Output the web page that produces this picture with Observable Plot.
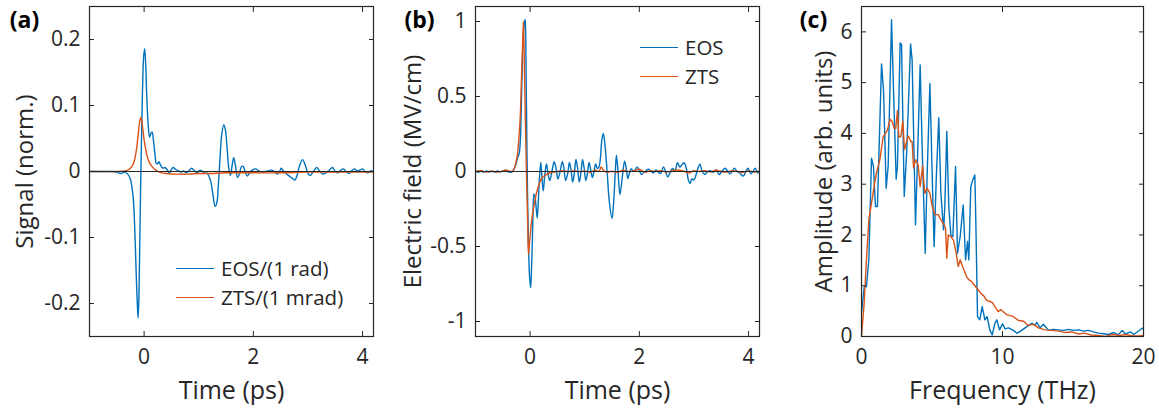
<!DOCTYPE html>
<html><head><meta charset="utf-8">
<script src="https://cdn.jsdelivr.net/npm/d3@7"></script>
<script src="https://cdn.jsdelivr.net/npm/@observablehq/plot@0.6"></script>
<style>
body{margin:0;background:#fff;}
#fig{position:relative;width:1159px;height:410px;font-family:"Open Sans",sans-serif;color:#262626;overflow:hidden;}
.panel{position:absolute;top:0;}
.leg{position:absolute;font-size:20.5px;line-height:22px;height:22px;white-space:nowrap;display:flex;align-items:center;}
.leg i{display:inline-block;width:38px;border-top:1.6px solid;margin-right:7px;}
</style></head><body><div id="fig"></div>
<script>
// ---------- Panel (a): Signal (norm.) vs Time (ps) ----------
const eosA = [[-1.0,0],[-0.8,0],[-0.6,0],[-0.5,-0.001],[-0.43,-0.003],[-0.36,-0.001],[-0.3,-0.004],[-0.25,-0.012],[-0.2,-0.04],[-0.17,-0.09],[-0.145,-0.155],[-0.125,-0.2],[-0.11,-0.222],[-0.095,-0.19],[-0.08,-0.11],[-0.065,-0.03],[-0.05,0.04],[-0.03,0.12],[-0.01,0.172],[0.01,0.186],[0.03,0.16],[0.05,0.11],[0.075,0.07],[0.1,0.052],[0.125,0.058],[0.145,0.06],[0.17,0.048],[0.2,0.025],[0.225,0.012],[0.25,0.012],[0.27,0.015],[0.3,0.01],[0.34,0.005],[0.38,0.006],[0.42,0.003],[0.46,-0.002],[0.5,0.003],[0.53,0.006],[0.58,0.003],[0.63,0.001],[0.68,-0.001],[0.72,0.001],[0.77,-0.002],[0.82,0.001],[0.87,0.005],[0.92,0.001],[0.97,-0.002],[1.02,0.002],[1.07,0],[1.11,-0.003],[1.15,-0.002],[1.18,-0.006],[1.22,-0.015],[1.26,-0.035],[1.3,-0.053],[1.33,-0.048],[1.36,-0.02],[1.39,0.02],[1.42,0.055],[1.46,0.071],[1.49,0.062],[1.52,0.035],[1.55,0.005],[1.58,-0.006],[1.61,0.008],[1.64,0.021],[1.67,0.01],[1.71,-0.009],[1.74,-0.005],[1.78,0.007],[1.81,0.008],[1.85,0],[1.89,-0.007],[1.93,-0.002],[1.98,0.002],[2.04,0.004],[2.1,0.001],[2.16,-0.001],[2.22,0],[2.28,0.001],[2.34,0.002],[2.4,-0.001],[2.44,-0.004],[2.48,0],[2.51,0.005],[2.55,0.001],[2.6,-0.003],[2.66,-0.007],[2.71,-0.01],[2.76,-0.013],[2.8,-0.006],[2.84,0.007],[2.9,0.018],[2.95,0.01],[3.0,-0.003],[3.04,-0.006],[3.1,0],[3.16,0.006],[3.21,0.001],[3.27,-0.004],[3.33,-0.002],[3.39,0.002],[3.45,0.006],[3.5,0],[3.55,-0.002],[3.6,0.002],[3.65,0.004],[3.7,0],[3.75,-0.003],[3.8,0.001],[3.85,0.004],[3.9,0.001],[3.95,0.002],[4.0,0.004],[4.05,-0.001],[4.1,-0.002],[4.15,0.001],[4.2,0]];
const ztsA = [[-1.0,0],[-0.5,0],[-0.35,0.001],[-0.28,0.003],[-0.22,0.008],[-0.18,0.016],[-0.14,0.033],[-0.11,0.055],[-0.08,0.076],[-0.06,0.082],[-0.04,0.075],[-0.02,0.062],[0,0.048],[0.03,0.033],[0.06,0.022],[0.1,0.013],[0.15,0.007],[0.2,0.003],[0.25,0],[0.32,-0.002],[0.4,-0.003],[0.6,-0.004],[0.8,-0.004],[1.0,-0.003],[1.2,-0.003],[1.5,-0.002],[2.0,-0.002],[2.5,-0.002],[3.0,-0.001],[3.5,-0.001],[4.2,-0.001]];
const ticksA_x = [0, 2, 4], labelsA_x = ["0", "2", "4"];
const ticksA_y = [-0.2, -0.1, 0, 0.1, 0.2], labelsA_y = ["-0.2", "-0.1", "0", "0.1", "0.2"];

// ---------- Panel (b): Electric field (MV/cm) vs Time (ps) ----------
const eosB = [[-1.0,0.005],[-0.95,-0.005],[-0.9,0.003],[-0.85,-0.004],[-0.8,0.004],[-0.75,-0.003],[-0.7,0.002],[-0.65,-0.004],[-0.6,0.003],[-0.55,-0.002],[-0.5,0.004],[-0.45,0.008],[-0.4,-0.003],[-0.35,-0.005],[-0.32,0],[-0.29,0.02],[-0.26,0.05],[-0.23,0.09],[-0.2,0.12],[-0.18,0.2],[-0.16,0.45],[-0.14,0.75],[-0.12,0.93],[-0.1,1.0],[-0.09,1.013],[-0.075,0.7],[-0.06,0.2],[-0.045,-0.2],[-0.03,-0.48],[-0.01,-0.7],[0.01,-0.775],[0.03,-0.6],[0.05,-0.33],[0.07,-0.15],[0.09,-0.17],[0.11,-0.24],[0.13,-0.31],[0.15,-0.2],[0.17,-0.05],[0.195,0.06],[0.215,-0.03],[0.24,-0.13],[0.27,-0.02],[0.3,0.05],[0.33,-0.02],[0.36,-0.06],[0.4,0],[0.44,0.065],[0.48,0.01],[0.51,-0.05],[0.55,0],[0.59,0.065],[0.62,0.02],[0.65,-0.06],[0.69,-0.01],[0.72,0.06],[0.75,0.01],[0.78,-0.07],[0.81,-0.01],[0.84,0.08],[0.87,0.02],[0.9,-0.07],[0.93,-0.01],[0.96,0.08],[0.99,0.02],[1.02,-0.06],[1.05,-0.01],[1.08,0.06],[1.11,0.01],[1.14,-0.04],[1.17,0],[1.2,0.05],[1.23,0.02],[1.26,0.03],[1.29,0.1],[1.31,0.2],[1.34,0.253],[1.37,0.18],[1.41,0],[1.45,-0.2],[1.5,-0.313],[1.53,-0.2],[1.56,0],[1.58,0.109],[1.61,0],[1.645,-0.153],[1.69,-0.03],[1.73,0.069],[1.76,0.02],[1.79,-0.047],[1.82,-0.01],[1.85,0.018],[1.9,0],[1.96,0.031],[2.0,0.005],[2.04,-0.02],[2.08,-0.005],[2.12,0.005],[2.17,0.016],[2.21,0.003],[2.26,-0.01],[2.3,0.01],[2.35,-0.005],[2.39,-0.013],[2.44,0.031],[2.48,0],[2.52,-0.036],[2.56,-0.01],[2.61,0.02],[2.65,0.005],[2.7,0.058],[2.74,0.03],[2.78,0.045],[2.82,0.058],[2.86,0.02],[2.9,-0.06],[2.93,-0.08],[2.96,-0.05],[3.0,-0.055],[3.04,-0.02],[3.08,0.03],[3.11,0.049],[3.15,0],[3.2,-0.02],[3.25,0],[3.3,0.005],[3.35,-0.005],[3.41,0.01],[3.46,-0.02],[3.5,-0.005],[3.57,0.022],[3.62,0],[3.66,-0.015],[3.7,0],[3.74,0.022],[3.79,0],[3.84,-0.01],[3.9,-0.031],[3.95,0],[3.99,0.022],[4.04,-0.015],[4.08,0],[4.12,0.022],[4.17,-0.01],[4.2,0.005]];
const ztsB = [[-1.0,0],[-0.9,0.005],[-0.8,-0.003],[-0.7,0.003],[-0.6,-0.004],[-0.5,0.003],[-0.45,0.01],[-0.4,0.005],[-0.33,0],[-0.29,0.02],[-0.26,0.06],[-0.23,0.12],[-0.2,0.25],[-0.18,0.37],[-0.16,0.6],[-0.14,0.82],[-0.123,1.0],[-0.105,0.7],[-0.085,0.3],[-0.065,-0.05],[-0.045,-0.33],[-0.03,-0.553],[-0.01,-0.47],[0.01,-0.39],[0.03,-0.32],[0.06,-0.25],[0.09,-0.19],[0.12,-0.14],[0.15,-0.1],[0.18,-0.07],[0.215,-0.042],[0.26,-0.03],[0.31,-0.018],[0.36,-0.01],[0.42,-0.004],[0.5,0],[0.6,0.005],[0.7,-0.002],[0.8,0.006],[0.9,-0.002],[1.0,0.004],[1.1,-0.005],[1.2,0.008],[1.26,0],[1.3,0.03],[1.34,0.01],[1.4,-0.005],[1.5,0.002],[1.6,-0.006],[1.7,0.008],[1.8,0],[1.9,0.004],[2.0,0.015],[2.1,-0.005],[2.2,0.005],[2.3,0],[2.4,0.006],[2.5,-0.004],[2.6,0.005],[2.7,0.01],[2.8,0.003],[2.9,-0.01],[3.0,0.005],[3.1,0],[3.2,0.006],[3.3,-0.004],[3.4,0.008],[3.5,0],[3.6,-0.004],[3.7,0.006],[3.8,0],[3.9,-0.006],[4.0,0.004],[4.1,-0.003],[4.2,0.002]];
const ticksB_x = [0, 2, 4], labelsB_x = ["0", "2", "4"];
const ticksB_y = [-1, -0.5, 0, 0.5, 1], labelsB_y = ["-1", "-0.5", "0", "0.5", "1"];

// ---------- Panel (c): Amplitude (arb. units) vs Frequency (THz) ----------
const eosC = [[0,0.46],[0.19,0.98],[0.35,0.98],[0.52,1.51],[0.71,3.51],[0.85,3.35],[0.99,2.56],[1.13,2.56],[1.42,5.37],[1.56,4.86],[1.75,2.92],[1.89,3.35],[2.13,6.24],[2.27,4.86],[2.46,3.10],[2.55,3.35],[2.74,5.78],[2.84,5.75],[3.03,2.76],[3.2,3.6],[3.48,5.76],[3.59,5.45],[3.83,2.20],[3.97,3.48],[4.16,5.35],[4.30,3.74],[4.52,1.64],[4.66,3.22],[4.85,4.98],[5.01,3.22],[5.15,1.77],[5.30,3.09],[5.48,4.31],[5.63,2.82],[5.82,2.10],[5.91,2.56],[6.05,4.04],[6.19,2.56],[6.34,2.0],[6.48,1.97],[6.67,3.35],[6.81,1.64],[7.0,1.97],[7.21,2.59],[7.38,1.51],[7.52,1.87],[7.61,1.51],[7.75,2.95],[7.9,3.09],[8.04,3.18],[8.11,2.23],[8.23,0.39],[8.39,0.33],[8.56,0.59],[8.75,0.33],[8.91,0.39],[9.1,0.13],[9.27,0.03],[9.46,0.26],[9.6,0.33],[9.79,0.13],[10.0,0.25],[10.19,0.15],[10.43,0.17],[10.78,0.12],[11.02,0.065],[11.26,0.1],[11.6,0.17],[12.08,0.26],[12.3,0.22],[12.43,0.28],[12.67,0.17],[12.9,0.24],[13.26,0.12],[13.6,0.14],[13.97,0.13],[14.3,0.12],[14.7,0.14],[15.0,0.12],[15.4,0.13],[15.75,0.105],[16.1,0.12],[16.46,0.09],[16.8,0.066],[17.17,0.053],[17.5,0.04],[17.9,0.079],[18.2,0.033],[18.5,0.118],[18.7,0.053],[19.1,0.09],[19.3,0.04],[19.7,0.118],[19.9,0.164],[20,0.15]];
const ztsC = [[0,0],[0.19,0.66],[0.35,1.51],[0.52,2.30],[0.71,2.63],[0.95,3.05],[1.06,3.22],[1.3,3.48],[1.54,3.94],[1.7,4.0],[1.84,4.07],[2.03,4.28],[2.17,4.24],[2.32,4.10],[2.43,4.10],[2.55,4.45],[2.65,3.93],[2.79,3.94],[2.93,4.24],[3.05,3.68],[3.17,3.81],[3.31,3.95],[3.5,3.84],[3.59,3.84],[3.69,3.32],[3.83,3.48],[4.02,3.38],[4.16,2.95],[4.33,3.36],[4.49,2.82],[4.66,2.92],[4.85,2.82],[5.01,2.57],[5.2,2.40],[5.44,2.40],[5.63,2.30],[5.86,2.20],[5.96,2.13],[6.05,1.54],[6.15,2.0],[6.34,1.97],[6.52,1.90],[6.71,1.65],[6.86,1.38],[7.0,1.51],[7.21,1.35],[7.45,1.18],[7.61,1.12],[7.8,1.08],[8.04,1.0],[8.27,0.92],[8.46,0.85],[8.7,0.79],[8.87,0.71],[9.1,0.69],[9.27,0.67],[9.46,0.59],[9.69,0.49],[9.88,0.53],[10.3,0.43],[10.78,0.39],[11.1,0.32],[11.5,0.30],[11.8,0.22],[12.2,0.24],[12.55,0.17],[13.0,0.13],[13.5,0.12],[13.97,0.105],[14.4,0.08],[14.9,0.09],[15.4,0.05],[15.8,0.066],[16.3,0.03],[16.8,0.02],[17.3,0],[17.8,0.04],[18.3,0.02],[18.75,0.04],[19.2,0.01],[19.7,0.01],[20,0.02]];
const ticksC_x = [0, 10, 20], labelsC_x = ["0", "10", "20"];
const ticksC_y = [0, 1, 2, 3, 4, 5, 6], labelsC_y = ["0", "1", "2", "3", "4", "5", "6"];

const BLUE = "#0072BD", ORANGE = "#D95319", INK = "#262626";
const TICK_FS = 21, XLABEL_FS = 25, YLABEL_FS = 24;

function makePanel(c) {
  const fmt = (ticks, labels) => d => labels[ticks.indexOf(d)];
  const marks = [];
  for (const s of c.series) marks.push(Plot.line(s.data, {x: d => d[0], y: d => d[1], stroke: s.color, strokeWidth: 1.4, curve: c.curve, clip: true}));
  if (c.zero) marks.push(Plot.ruleY([0], {stroke: INK, strokeWidth: 1}));
  marks.push(
    Plot.frame({stroke: INK, strokeWidth: 1.2}),
    Plot.axisX(c.xTicks, {anchor: "bottom", tickSize: -5, text: null, label: null, stroke: INK}),
    Plot.axisX(c.xTicks, {anchor: "top", tickSize: -5, text: null, label: null, stroke: INK}),
    Plot.axisY(c.yTicks, {anchor: "left", tickSize: -5, text: null, label: null, stroke: INK}),
    Plot.axisY(c.yTicks, {anchor: "right", tickSize: -5, text: null, label: null, stroke: INK}),
    Plot.axisX(c.xTicks, {anchor: "bottom", tickSize: 0, tickPadding: 13, tickFormat: fmt(c.xTicks, c.xLabels), label: null, fontSize: TICK_FS, fill: INK}),
    Plot.axisY(c.yTicks, {anchor: "left", tickSize: 0, tickPadding: 9, tickFormat: fmt(c.yTicks, c.yLabels), label: null, fontSize: TICK_FS, fill: INK}),
    Plot.text([c.xTitle], {frameAnchor: "bottom", dy: 54, textAnchor: "middle", lineAnchor: "middle", fontSize: XLABEL_FS, fill: INK}),
    Plot.text([c.yTitle], {frameAnchor: "left", dx: c.yTitleDx, rotate: -90, textAnchor: "middle", lineAnchor: "middle", fontSize: YLABEL_FS, fill: INK}),
    Plot.text([c.letter], {frameAnchor: "top-left", dx: c.letterDx, dy: 14, textAnchor: "middle", lineAnchor: "middle", fontSize: 23, fontWeight: "bold", fill: "#000"})
  );
  const svg = Plot.plot({
    width: c.width, height: 410,
    marginLeft: c.mL, marginRight: c.mR, marginTop: 6, marginBottom: 74,
    style: {fontFamily: '"Open Sans", sans-serif', fontSize: TICK_FS + "px", color: INK, background: "transparent", overflow: "visible"},
    x: {domain: c.xDomain, axis: null},
    y: {domain: c.yDomain, axis: null},
    marks
  });
  const div = document.createElement("div");
  div.className = "panel";
  div.style.left = c.left + "px";
  div.appendChild(svg);
  return div;
}

const fig = document.getElementById("fig");
fig.appendChild(makePanel({left: 0, width: 390, mL: 89, mR: 17, xDomain: [-1, 4.2], yDomain: [-0.25, 0.25],
  xTicks: ticksA_x, xLabels: labelsA_x, yTicks: ticksA_y, yLabels: labelsA_y,
  series: [{data: eosA, color: BLUE}, {data: ztsA, color: ORANGE}], zero: true, curve: "catmull-rom",
  xTitle: "Time (ps)", yTitle: "Signal (norm.)", yTitleDx: -64, letter: "(a)", letterDx: -65}));
fig.appendChild(makePanel({left: 390, width: 390, mL: 85, mR: 21, xDomain: [-1, 4.2], yDomain: [-1.1, 1.1],
  xTicks: ticksB_x, xLabels: labelsB_x, yTicks: ticksB_y, yLabels: labelsB_y,
  series: [{data: eosB, color: BLUE}, {data: ztsB, color: ORANGE}], zero: true, curve: "catmull-rom",
  xTitle: "Time (ps)", yTitle: "Electric field (MV/cm)", yTitleDx: -62, letter: "(b)", letterDx: -56}));
fig.appendChild(makePanel({left: 780, width: 379, mL: 81, mR: 16, xDomain: [0, 20], yDomain: [0, 6.5],
  xTicks: ticksC_x, xLabels: labelsC_x, yTicks: ticksC_y, yLabels: labelsC_y,
  series: [{data: eosC, color: BLUE}, {data: ztsC, color: ORANGE}], zero: false, curve: "linear",
  xTitle: "Frequency (THz)", yTitle: "Amplitude (arb. units)", yTitleDx: -37, letter: "(c)", letterDx: -48}));

// legends
const legends = [
  {left: 176, top: 268, label: "EOS/(1 rad)", color: BLUE},
  {left: 176, top: 297, label: "ZTS/(1 mrad)", color: ORANGE},
  {left: 640, top: 47, label: "EOS", color: BLUE},
  {left: 640, top: 76, label: "ZTS", color: ORANGE}
];
for (const l of legends) {
  const d = document.createElement("div");
  d.className = "leg";
  d.style.left = l.left + "px";
  d.style.top = (l.top - 11) + "px";
  const sw = document.createElement("i");
  sw.style.borderColor = l.color;
  d.appendChild(sw);
  d.appendChild(document.createTextNode(l.label));
  fig.appendChild(d);
}
</script></body></html>
